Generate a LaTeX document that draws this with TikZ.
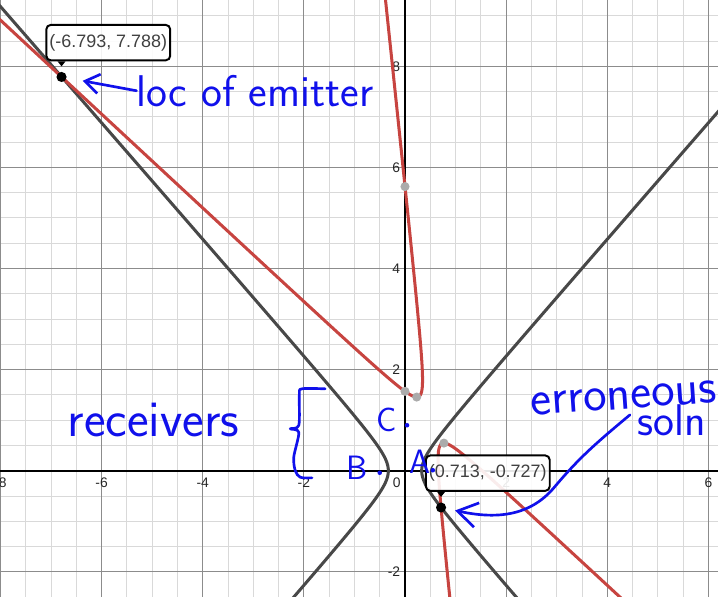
\documentclass[tikz,border=0pt]{standalone}
\usepackage{fontspec}
\setmainfont{Liberation Sans}
\usepackage{xcolor}
\usepackage{tikz}
\usetikzlibrary{arrows.meta}

\definecolor{desred}{RGB}{199,68,64}
\definecolor{desgray}{RGB}{72,72,72}
\definecolor{pen}{RGB}{16,16,235}

\begin{document}
\begin{tikzpicture}[
    every node/.style={inner sep=0pt},
    num/.style={font=\fontsize{7.8}{9}\selectfont, text=black!85},
    curve/.style={line width=1.7pt, line join=round},
    poi/.style={circle, fill=black!33, minimum size=0.18cm},
    ptdot/.style={circle, fill=black, minimum size=0.2cm},
    tip box/.style={draw=black, line width=1.1pt, rounded corners=2.5pt,
        fill=white, fill opacity=0.9, text opacity=1, text=black!75,
        minimum width=2.45cm, minimum height=0.7cm,
        font=\fontsize{10.1}{12}\selectfont},
    hand/.style={text=pen, font=\sffamily\fontsize{25}{28}\selectfont},
    pen line/.style={pen, line width=1.5pt, line cap=round, line join=round},
    pen dot/.style={circle, fill=pen, minimum size=0.09cm}
]
    \useasboundingbox (-8.01,-2.49) rectangle (6.19,9.31);
    \clip (-8.01,-2.49) rectangle (6.19,9.31);

    \draw[step=0.5, black!15, line width=0.5pt] (-8.5,-3) grid (6.5,9.5);
    \draw[step=2, black!45, line width=0.55pt] (-8.5,-3) grid (6.5,9.5);
    \draw[line width=1.1pt] (-8.01,0) -- (6.19,0);
    \draw[line width=1.1pt] (0,-2.49) -- (0,9.31);

    \foreach \x [count=\i] in {-8,-6,-4,-2,2,4,6}
        \node[num, anchor=north] (xl\i) at (\x,-0.13) {\x};
    \foreach \y [count=\i] in {-2,2,4,6,8}
        \node[num, anchor=east] (yl\i) at (-0.09,\y) {\y};
    \node[num, anchor=north east] (zero) at (-0.08,-0.13) {0};

    \draw[desgray, curve, domain=-3:4, samples=200, variable=\t]
        plot ({0.33*cosh(\t)},{0.379*sinh(\t)});
    \draw[desgray, curve, domain=-3:4, samples=200, variable=\t]
        plot ({-0.33*cosh(\t)},{0.379*sinh(\t)});

    \draw[desred, curve, domain=-4.2:3.7, samples=250, variable=\t]
        plot ({0.5002-0.23161*cosh(\t)+0.17339*sinh(\t)},{1.00225+0.46323*cosh(\t)+0.086697*sinh(\t)});
    \draw[desred, curve, domain=-3:3.3, samples=250, variable=\t]
        plot ({0.5002+0.23161*cosh(\t)+0.17339*sinh(\t)},{1.00225-0.46323*cosh(\t)+0.086697*sinh(\t)});

    \node[poi] (yint1) at (0,1.57) {};
    \node[poi] (yint2) at (0,5.62) {};
    \node[poi] (ymin) at (0.2313,1.4573) {};
    \node[poi] (ymax) at (0.7691,0.5472) {};

    \node[ptdot] (emit) at (-6.793,7.788) {};
    \node[ptdot] (bad) at (0.713,-0.727) {};

    \node[tip box, anchor=south west] (emitbox) at ([shift={(-0.32,0.31)}]emit.center) {(-6.793, 7.788)};
    \fill (emitbox.south west) ++(0.24,0) -- ++(0.16,0) -- ++(-0.08,-0.1) -- cycle;
    \node[tip box, anchor=south west] (badbox) at ([shift={(-0.32,0.31)}]bad.center) {(0.713, -0.727)};
    \fill (badbox.south west) ++(0.24,0) -- ++(0.16,0) -- ++(-0.08,-0.1) -- cycle;

    \node[hand, anchor=base west] (loc) at (-5.31,7.21) {loc of emitter};
    \draw[pen line, -{Straight Barb[length=8pt,width=11pt]}, shorten >=9pt] (loc.west) -- (emit);

    \node[hand, anchor=base west, font=\sffamily\fontsize{29}{32}\selectfont] (recv) at (-6.68,0.68) {receivers};
    \draw[pen line] plot[smooth, tension=0.5] coordinates {(-1.58,1.62) (-2.04,1.62) (-2.09,1.50) (-2.10,0.90) (-2.27,0.83) (-2.10,0.76) (-2.20,0.27) (-2.17,0.0) (-2.07,-0.13) (-1.84,-0.14)};

    \node[hand, font=\sffamily\fontsize{19}{21}\selectfont] (lc) at (-0.36,1.0) {C};
    \node[hand, font=\sffamily\fontsize{19}{21}\selectfont] (lb) at (-0.95,0.06) {B};
    \node[hand, font=\sffamily\fontsize{19}{21}\selectfont] (la) at (0.30,0.18) {A};
    \node[pen dot] (rc) at (0.04,0.90) {};
    \node[pen dot] (rb) at (-0.50,-0.04) {};
    \node[pen dot] (ra) at (0.55,0.01) {};

    \node[hand, anchor=base west, rotate=4, font=\sffamily\fontsize{28}{31}\selectfont] (err) at (2.50,1.095) {erroneous};
    \node[hand, anchor=base west, font=\sffamily\fontsize{25}{28}\selectfont] (soln) at (4.59,0.70) {soln};
    \draw[pen line, -{Straight Barb[length=11pt,width=14pt]}, shorten >=5pt]
        ([xshift=-4pt,yshift=3pt]soln.west) to[out=220,in=50] (2.95,-0.33) to[out=230,in=-12] (bad);
\end{tikzpicture}
\end{document}
